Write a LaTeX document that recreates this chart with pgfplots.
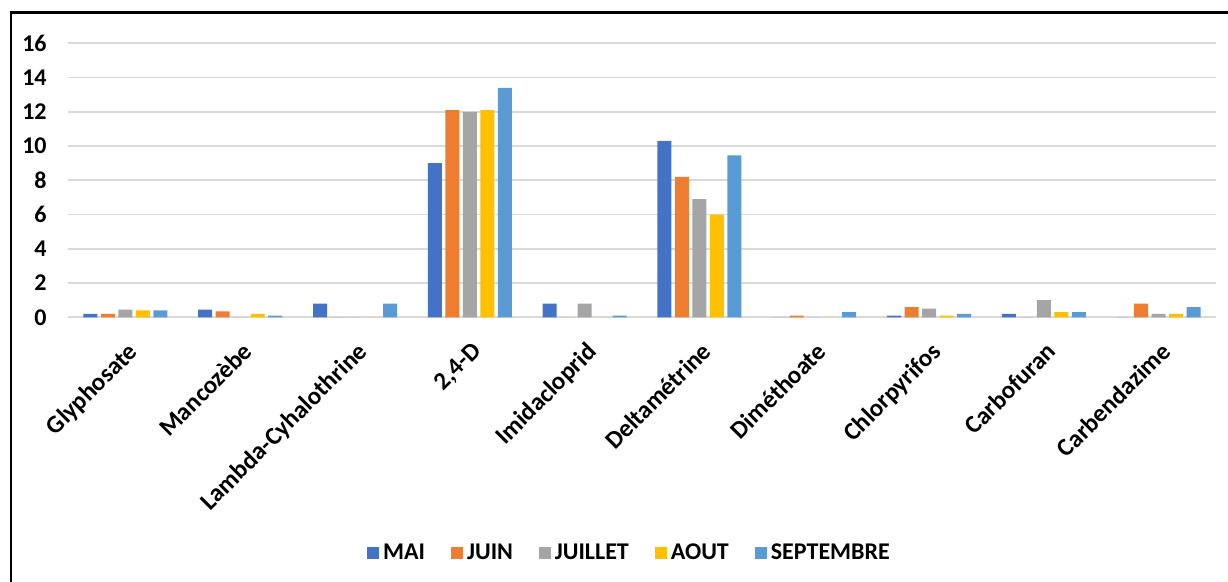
\documentclass[border=0pt]{standalone}
\usepackage{pgfplots}
\pgfplotsset{compat=1.18}
\usepackage{fontspec}
\setmainfont{Carlito}
\definecolor{cMai}{HTML}{4472C4}
\definecolor{cJuin}{HTML}{ED7D31}
\definecolor{cJuil}{HTML}{A5A5A5}
\definecolor{cAout}{HTML}{FFC000}
\definecolor{cSept}{HTML}{5B9BD5}
\definecolor{gridc}{HTML}{D9D9D9}
\begin{document}
\begin{tikzpicture}
\begin{axis}[
  at={(34pt,132.35pt)}, anchor=south west,
  scale only axis, width=574pt, height=137pt,
  ybar=1.75pt, bar width=7pt,
  xmin=-0.5, xmax=9.5, ymin=0, ymax=16,
  xtick={0,1,2,3,4,5,6,7,8,9},
  xticklabels={Glyphosate,Mancozèbe,Lambda-Cyhalothrine,{2,4-D},Imidacloprid,Deltamétrine,Diméthoate,Chlorpyrifos,Carbofuran,Carbendazime},
  ytick={0,2,4,6,8,10,12,14,16},
  major tick length=0pt,
  axis line style={draw=none},
  ymajorgrids, grid style={gridc, line width=0.9pt},
  tick label style={font=\bfseries\fontsize{12}{14}\selectfont},
  /pgf/number format/assume math mode=true,
  xticklabel style={xshift=0.5pt, yshift=-11.5pt, rotate=45, anchor=north east, inner sep=0pt, font=\bfseries\fontsize{12.5}{14}\selectfont},
  yticklabel style={anchor=east, inner sep=0pt, xshift=-10.5pt},
  legend style={at={(0.49,-0.86)}, anchor=center, draw=none, fill=none,
    legend columns=-1, font=\bfseries\fontsize{12}{14}\selectfont,
    /tikz/every even column/.append style={column sep=11pt},
    legend cell align=left, inner sep=0pt},
  legend image code/.code={\fill[#1] (0pt,-3pt) rectangle (6pt,3pt);},
]
\addplot[fill=cMai, draw=none] coordinates {(0,0.2) (1,0.45) (2,0.8) (3,9.0) (4,0.8) (5,10.3) (6,0) (7,0.1) (8,0.2) (9,0)};
\addplot[fill=cJuin, draw=none] coordinates {(0,0.2) (1,0.35) (2,0) (3,12.1) (4,0) (5,8.2) (6,0.1) (7,0.6) (8,0) (9,0.8)};
\addplot[fill=cJuil, draw=none] coordinates {(0,0.45) (1,0) (2,0) (3,12.0) (4,0.8) (5,6.9) (6,0) (7,0.5) (8,1.0) (9,0.2)};
\addplot[fill=cAout, draw=none] coordinates {(0,0.4) (1,0.2) (2,0) (3,12.1) (4,0) (5,6.0) (6,0) (7,0.1) (8,0.3) (9,0.2)};
\addplot[fill=cSept, draw=none] coordinates {(0,0.4) (1,0.1) (2,0.8) (3,13.4) (4,0.1) (5,9.45) (6,0.3) (7,0.2) (8,0.3) (9,0.6)};
\legend{MAI,JUIN,JUILLET,AOUT,SEPTEMBRE}
\end{axis}
\draw[line width=1.3pt, black] (5.4pt,0pt) -- (5.4pt,284.6pt) -- (614pt,284.6pt);
\pgfresetboundingbox
\path (0pt,0pt) rectangle (614pt,291pt);
\end{tikzpicture}
\end{document}
